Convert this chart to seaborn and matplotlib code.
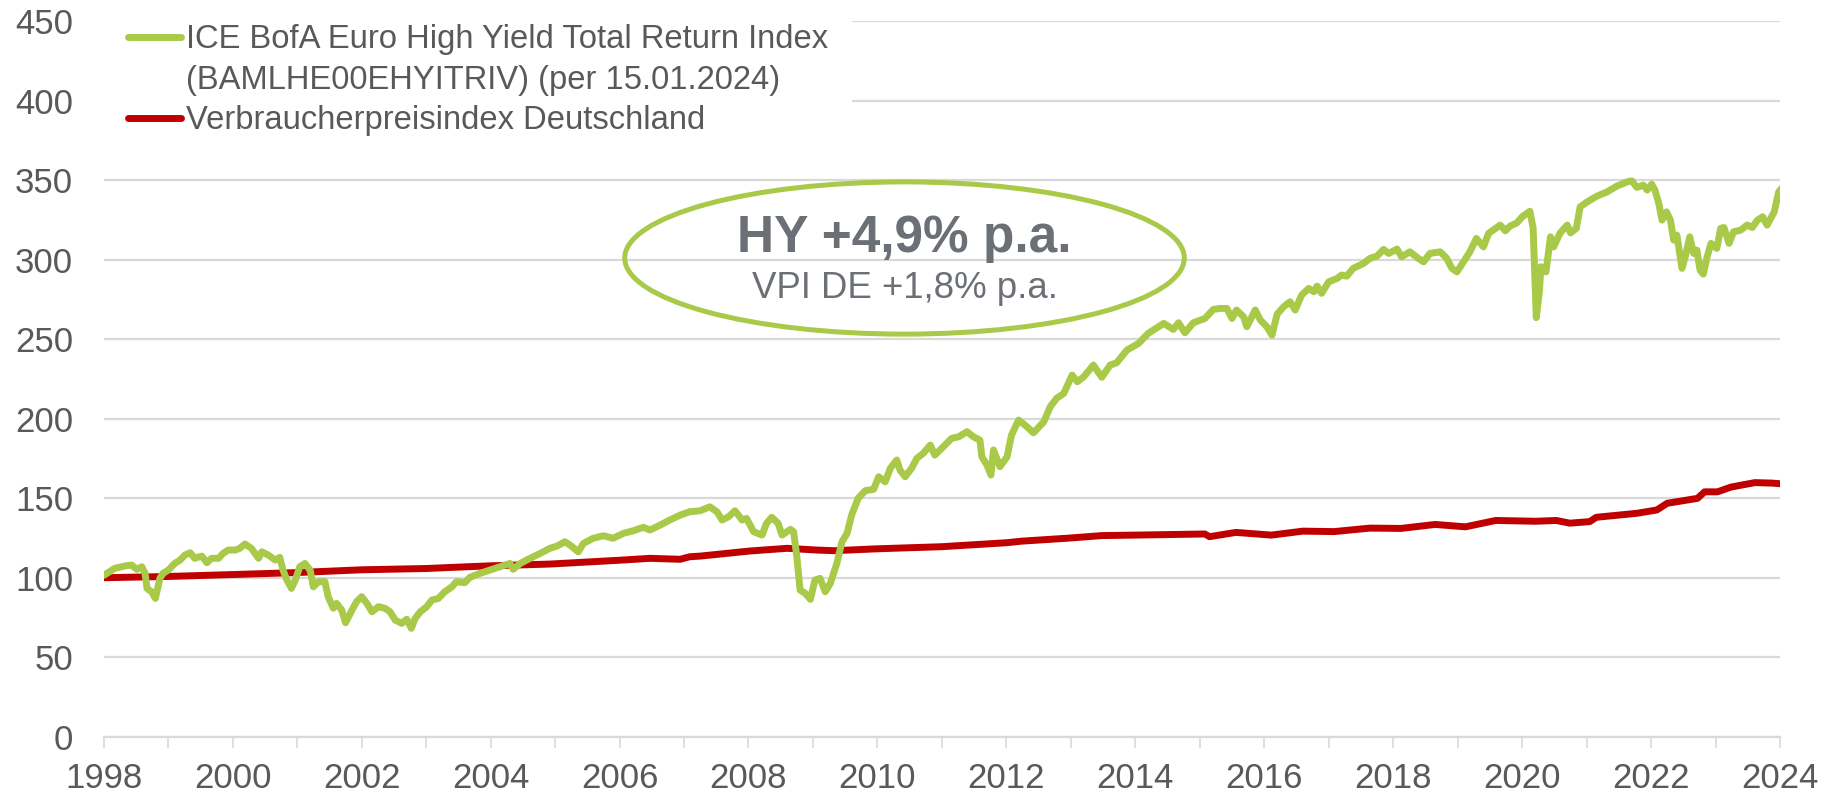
import numpy as np
import pandas as pd
import matplotlib
matplotlib.use("Agg")
import matplotlib.pyplot as plt
import seaborn as sns
from matplotlib.lines import Line2D
from matplotlib.patches import Ellipse

# ---------------- data ----------------
hy_years = [
    1998.00, 1998.17, 1998.33, 1998.43, 1998.51, 1998.59, 1998.64, 1998.67, 1998.74, 1998.80,
    1998.87, 1998.92, 1999.00, 1999.10, 1999.18, 1999.26, 1999.34, 1999.41, 1999.52, 1999.60,
    1999.67, 1999.78, 1999.85, 1999.93, 2000.04, 2000.11, 2000.19, 2000.29, 2000.40, 2000.45,
    2000.55, 2000.66, 2000.73, 2000.78, 2000.84, 2000.91, 2000.97, 2001.04, 2001.12, 2001.20,
    2001.25, 2001.33, 2001.43, 2001.48, 2001.56, 2001.61, 2001.69, 2001.75, 2001.85, 2001.92,
    2002.00, 2002.08, 2002.16, 2002.26, 2002.36, 2002.44, 2002.52, 2002.62, 2002.70, 2002.77,
    2002.83, 2002.91, 2003.01, 2003.09, 2003.19, 2003.29, 2003.40, 2003.47, 2003.60, 2003.68,
    2003.84, 2003.99, 2004.15, 2004.30, 2004.35, 2004.46, 2004.61, 2004.77, 2004.92, 2005.03,
    2005.15, 2005.23, 2005.36, 2005.44, 2005.59, 2005.75, 2005.90, 2006.06, 2006.21, 2006.37,
    2006.47, 2006.63, 2006.78, 2006.94, 2007.09, 2007.25, 2007.40, 2007.51, 2007.59, 2007.69,
    2007.79, 2007.90, 2007.97, 2008.08, 2008.21, 2008.28, 2008.36, 2008.46, 2008.52, 2008.65,
    2008.70, 2008.75, 2008.80, 2008.88, 2008.96, 2009.03, 2009.11, 2009.19, 2009.27, 2009.37,
    2009.45, 2009.53, 2009.60, 2009.70, 2009.81, 2009.94, 2010.02, 2010.12, 2010.20, 2010.30,
    2010.35, 2010.43, 2010.53, 2010.61, 2010.71, 2010.82, 2010.89, 2011.02, 2011.15, 2011.26,
    2011.39, 2011.49, 2011.59, 2011.62, 2011.70, 2011.76, 2011.80, 2011.90, 2012.01, 2012.08,
    2012.19, 2012.32, 2012.42, 2012.58, 2012.68, 2012.78, 2012.89, 2013.02, 2013.10, 2013.20,
    2013.35, 2013.48, 2013.61, 2013.71, 2013.87, 2014.05, 2014.20, 2014.44, 2014.59, 2014.67,
    2014.77, 2014.90, 2015.08, 2015.21, 2015.32, 2015.42, 2015.50, 2015.57, 2015.68, 2015.73,
    2015.86, 2015.94, 2016.04, 2016.12, 2016.20, 2016.30, 2016.40, 2016.48, 2016.58, 2016.69,
    2016.77, 2016.82, 2016.89, 2017.00, 2017.13, 2017.20, 2017.28, 2017.38, 2017.54, 2017.64,
    2017.75, 2017.85, 2017.93, 2018.06, 2018.13, 2018.26, 2018.37, 2018.47, 2018.57, 2018.73,
    2018.83, 2018.91, 2018.99, 2019.09, 2019.19, 2019.29, 2019.40, 2019.48, 2019.55, 2019.66,
    2019.74, 2019.81, 2019.92, 2020.00, 2020.12, 2020.17, 2020.22, 2020.27, 2020.29, 2020.37,
    2020.44, 2020.49, 2020.59, 2020.70, 2020.75, 2020.84, 2020.90, 2021.01, 2021.16, 2021.32,
    2021.47, 2021.63, 2021.70, 2021.78, 2021.88, 2021.94, 2022.01, 2022.06, 2022.12, 2022.17,
    2022.24, 2022.30, 2022.35, 2022.40, 2022.48, 2022.53, 2022.60, 2022.66, 2022.71, 2022.76,
    2022.81, 2022.87, 2022.93, 2023.02, 2023.08, 2023.13, 2023.21, 2023.28, 2023.39, 2023.49,
    2023.57, 2023.65, 2023.73, 2023.80, 2023.91, 2023.98, 2024.04,
]
hy_values = [
    101.5, 105.9, 107.4, 108.0, 105.3, 106.9, 102.8, 93.3, 91.2, 87.0,
    99.6, 102.8, 104.8, 109.0, 111.0, 114.3, 115.7, 112.2, 113.6, 109.4,
    112.2, 112.2, 115.3, 117.4, 117.4, 118.5, 121.2, 118.5, 112.2, 116.3,
    114.3, 111.1, 112.8, 104.8, 98.5, 93.3, 98.5, 106.9, 109.0, 104.8,
    94.3, 97.5, 97.5, 88.1, 80.8, 83.9, 79.7, 71.7, 79.7, 84.9,
    88.1, 83.9, 78.6, 81.8, 80.8, 78.6, 73.4, 71.3, 73.9, 68.2,
    74.5, 78.6, 81.8, 86.0, 87.0, 91.2, 94.3, 97.5, 96.9, 100.3,
    102.8, 104.8, 106.9, 109.0, 105.3, 109.0, 112.2, 115.3, 118.5, 119.9,
    122.6, 120.6, 116.3, 121.6, 124.8, 126.4, 124.8, 127.9, 129.5, 131.7,
    130.0, 133.1, 136.3, 139.4, 141.5, 142.1, 144.6, 141.5, 136.3, 138.3,
    142.1, 136.3, 137.3, 128.9, 126.8, 134.2, 138.0, 134.2, 126.8, 130.4,
    128.9, 113.2, 92.3, 90.2, 86.4, 98.5, 99.6, 91.2, 96.5, 109.0,
    122.6, 128.0, 139.4, 149.9, 154.7, 155.6, 163.5, 160.3, 168.8, 174.0,
    167.7, 163.5, 168.8, 175.0, 178.2, 183.4, 177.1, 182.3, 187.6, 188.6,
    191.8, 188.6, 186.5, 176.0, 170.8, 164.6, 180.3, 169.8, 176.0, 189.7,
    199.1, 194.9, 191.1, 198.0, 207.5, 212.8, 215.9, 227.4, 223.2, 226.3,
    233.7, 226.0, 233.7, 235.1, 243.1, 247.3, 253.6, 259.9, 256.1, 260.3,
    254.0, 260.3, 263.0, 268.7, 269.3, 269.3, 263.0, 268.3, 264.0, 257.8,
    268.3, 262.0, 257.8, 252.5, 265.7, 270.3, 273.5, 268.3, 277.7, 281.9,
    279.8, 283.3, 278.8, 286.0, 288.2, 290.3, 289.6, 294.5, 297.6, 300.8,
    302.2, 306.4, 303.9, 306.6, 301.8, 304.9, 301.4, 298.6, 303.9, 304.9,
    300.8, 294.5, 292.3, 298.6, 304.9, 313.3, 308.0, 316.5, 318.5, 321.7,
    318.1, 321.0, 323.1, 326.9, 330.4, 320.0, 263.5, 280.8, 295.5, 292.3,
    314.3, 308.0, 316.8, 321.7, 316.8, 319.6, 333.2, 336.3, 339.9, 342.6,
    346.2, 348.9, 349.5, 345.4, 346.8, 343.7, 347.4, 343.7, 335.3, 324.8,
    330.0, 324.8, 312.3, 315.4, 294.5, 301.8, 314.3, 303.9, 306.0, 293.4,
    290.9, 301.8, 310.2, 307.0, 319.6, 320.2, 310.2, 317.5, 318.5, 321.7,
    320.2, 324.8, 326.9, 321.7, 330.0, 342.6, 345.4,
]

cpi_years = [
    1998.00, 1999.00, 1999.41, 2000.00, 2000.97, 2002.00, 2003.00, 2003.40, 2004.00, 2004.92,
    2006.00, 2006.47, 2006.94, 2007.09, 2007.25, 2008.02, 2008.60, 2009.06, 2009.33, 2010.00,
    2010.99, 2012.00, 2012.24, 2013.00, 2013.48, 2014.00, 2015.08, 2015.15, 2015.56, 2016.11,
    2016.60, 2017.08, 2017.64, 2018.12, 2018.65, 2019.12, 2019.59, 2020.21, 2020.53, 2020.74,
    2021.05, 2021.15, 2021.78, 2022.09, 2022.25, 2022.72, 2022.83, 2023.03, 2023.24, 2023.61,
    2023.87, 2024.04,
]
cpi_values = [
    100.0, 100.8, 101.3, 102.0, 103.2, 105.0, 105.8, 106.5, 107.5, 108.6,
    111.0, 112.2, 111.6, 113.2, 113.6, 116.8, 118.5, 117.4, 117.0, 118.2,
    119.5, 122.0, 123.0, 125.0, 126.5, 126.8, 127.5, 125.8, 128.5, 126.8,
    129.3, 129.0, 131.2, 131.0, 133.5, 132.0, 136.0, 135.5, 136.0, 134.3,
    135.3, 138.0, 140.5, 142.6, 146.8, 149.9, 154.0, 154.0, 157.0, 159.8,
    159.5, 159.0,
]

series_hy = "ICE BofA Euro High Yield Total Return Index"
series_cpi = "Verbraucherpreisindex Deutschland"
legend_labels = [
    "ICE BofA Euro High Yield Total Return Index",
    "(BAMLHE00EHYITRIV) (per 15.01.2024)",
    "Verbraucherpreisindex Deutschland",
]
x_tick_years = list(range(1998, 2025))
y_ticks = [0, 50, 100, 150, 200, 250, 300, 350, 400, 450]
annot_main = "HY +4,9% p.a."
annot_sub = "VPI DE +1,8% p.a."

GREEN = "#a9c948"
RED = "#c00000"
TEXT = "#595959"
ANNOT = "#6b7076"
GRID = "#d9d9d9"

df = pd.concat([
    pd.DataFrame({"year": hy_years, "value": hy_values, "series": series_hy}),
    pd.DataFrame({"year": cpi_years, "value": cpi_values, "series": series_cpi}),
])

# ---------------- plot ----------------
sns.set_theme(style="white")
plt.rcParams["font.family"] = ["Liberation Sans", "DejaVu Sans"]

fig = plt.figure(figsize=(18.28, 7.98), dpi=100)
ax = fig.add_axes([103.8 / 1828, 1 - 736.8 / 798, (1780 - 103.8) / 1828, (736.8 - 21) / 798])

sns.lineplot(data=df, x="year", y="value", hue="series",
             palette={series_hy: GREEN, series_cpi: RED},
             hue_order=[series_cpi, series_hy],
             estimator=None, sort=False, linewidth=5.0, legend=False, ax=ax)
for ln in ax.get_lines():
    ln.set_solid_capstyle("round")
    ln.set_solid_joinstyle("round")

ax.set_xlim(1998, 2024)
ax.set_ylim(0, 450)
ax.set_yticks(y_ticks)
ax.set_xticks(x_tick_years)
ax.set_xticklabels([str(y) if (y - 1998) % 2 == 0 else "" for y in x_tick_years])
ax.set_xlabel("")
ax.set_ylabel("")

ax.grid(axis="y", color=GRID, linewidth=1.6)
ax.grid(axis="x", visible=False)
ax.set_axisbelow(True)
for s in ["left", "right", "top"]:
    ax.spines[s].set_visible(False)
ax.spines["bottom"].set_color(GRID)
ax.spines["bottom"].set_linewidth(1.6)
ax.tick_params(axis="y", length=0, pad=22, labelsize=25, labelcolor=TEXT)
ax.tick_params(axis="x", length=8, width=1.2, color=GRID, direction="out",
               pad=10, labelsize=25, labelcolor=TEXT, bottom=True)

# annotation ellipse
ell = Ellipse((2010.42, 301), width=8.68, height=95.7, fill=False,
              edgecolor=GREEN, linewidth=3.6, zorder=5)
ax.add_patch(ell)
ax.text(2010.42, 304.9, annot_main, ha="center", va="baseline",
        fontsize=37, fontweight="bold", color=ANNOT, zorder=6)
ax.text(2010.42, 275.6, annot_sub, ha="center", va="baseline",
        fontsize=26.4, color=ANNOT, zorder=6)

# legend
handles = [Line2D([], [], color=GREEN, linewidth=5.0, solid_capstyle="round"),
           Line2D([], [], color="none", linewidth=0),
           Line2D([], [], color=RED, linewidth=5.0, solid_capstyle="round")]
leg = ax.legend(handles, legend_labels, loc="upper left",
                bbox_to_anchor=(0.0, 1.03), borderaxespad=0.0, borderpad=0.75,
                handlelength=1.6, handletextpad=0.15, labelspacing=0.29,
                fontsize=23.6, frameon=True, facecolor="white", edgecolor="none",
                framealpha=1.0, fancybox=False)
for t in leg.get_texts():
    t.set_color(TEXT)
leg.set_zorder(10)

fig.savefig("out.png", dpi=100)
